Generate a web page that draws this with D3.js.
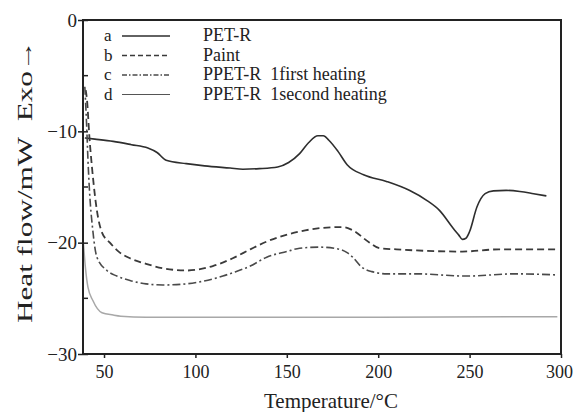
<!DOCTYPE html>
<html>
<head>
<meta charset="utf-8">
<script src="https://cdn.jsdelivr.net/npm/d3@7"></script>
<style>
  body { margin: 0; background: #fff; }
  svg { display: block; font-family: "Liberation Serif", "DejaVu Serif", serif; }
</style>
</head>
<body>
<div id="vizContainer"></div>
<script>
let w = 573;
let h = 412;
let margin = { left: 83, right: 12, top: 20, bottom: 58 };

// curve a: PET-R
let tempA = [39.5, 45, 55, 65, 74, 79, 84, 95, 105, 119, 126, 135, 145, 151, 157, 162, 167, 170, 173, 178, 183, 192, 204.5, 217, 226.5, 233.5, 241, 244, 246, 248, 250, 254, 258.5, 263, 270, 277.5, 285, 292];
let flowA = [-10.6, -10.7, -10.9, -11.2, -11.5, -11.9, -12.6, -12.9, -13.1, -13.3, -13.4, -13.35, -13.2, -12.8, -12.0, -11.0, -10.4, -10.4, -10.8, -11.8, -13.0, -13.9, -14.5, -15.3, -16.2, -17.1, -18.7, -19.3, -19.7, -19.6, -19.0, -16.8, -15.6, -15.35, -15.3, -15.4, -15.6, -15.8];

// curve b: Paint
let tempB = [40, 40.7, 42, 43.4, 46.1, 48.9, 53.2, 58, 64.2, 73, 82.2, 95.3, 109.5, 120.4, 130, 139, 157, 168, 180.5, 185, 188.2, 192, 195.3, 200.7, 210, 221, 246, 266, 298];
let flowB = [-6.3, -7.2, -10.5, -13.2, -17.1, -19.1, -20.0, -20.8, -21.4, -21.9, -22.3, -22.5, -22.1, -21.4, -20.6, -19.9, -19.0, -18.7, -18.6, -18.8, -19.1, -19.6, -20.0, -20.5, -20.6, -20.7, -20.8, -20.6, -20.6];

// curve c: PPET-R first heating
let tempC = [39.5, 40.5, 41.2, 41.8, 44, 46.1, 51.6, 57, 64.2, 73, 82.2, 95, 103, 115, 120.4, 130, 139, 150, 157, 168, 179, 183, 186, 191, 196.5, 205, 221, 248, 275, 298];
let flowC = [-6.0, -9.5, -12.5, -14.6, -19.1, -21.3, -22.5, -23.0, -23.4, -23.7, -23.8, -23.7, -23.5, -23.0, -22.7, -22.1, -21.3, -20.8, -20.5, -20.4, -20.6, -20.9, -21.3, -22.2, -22.6, -22.8, -22.8, -23.0, -22.8, -22.9];

// curve d: PPET-R second heating
let tempD = [38.7, 39.8, 41.2, 43.9, 48.9, 55, 59.2, 73, 100, 200, 298];
let flowD = [-20.0, -22.2, -24.0, -25.2, -26.3, -26.5, -26.6, -26.7, -26.7, -26.7, -26.65];

let xTicks = [50, 100, 150, 200, 250, 300];
let yTicks = [0, -10, -20, -30];
let yMinorTicks = [-5, -15, -25];

let legendKeys = ["a", "b", "c", "d"];
let legendNames = ["PET-R", "Paint", "PPET-R  1first heating", "PPET-R  1second heating"];

let viz = d3.select("#vizContainer").append("svg")
	.attr("width", w)
	.attr("height", h);

let xScale = d3.scaleLinear().domain([38.5, 300]).range([margin.left, w - margin.right]);
let yScale = d3.scaleLinear().domain([-30, 0]).range([h - margin.bottom, margin.top]);

let styles = [
	{ stroke: "#2e2e2e", width: 1.6, dash: null },
	{ stroke: "#3a3a3a", width: 1.8, dash: "7,4" },
	{ stroke: "#4a4a4a", width: 1.6, dash: "8,3,2,3" },
	{ stroke: "#a8a8a8", width: 1.5, dash: null }
];

let series = [
	d3.zip(tempA, flowA),
	d3.zip(tempB, flowB),
	d3.zip(tempC, flowC),
	d3.zip(tempD, flowD)
];

let line = d3.line()
	.x(d => xScale(d[0]))
	.y(d => yScale(d[1]))
	.curve(d3.curveMonotoneX);

let graphGroup = viz.append("g").attr("class", "graphGroup");
graphGroup.selectAll(".curve").data(series).enter().append("path")
	.attr("class", "curve")
	.attr("d", d => line(d))
	.attr("fill", "none")
	.attr("stroke", (d, i) => styles[i].stroke)
	.attr("stroke-width", (d, i) => styles[i].width)
	.attr("stroke-dasharray", (d, i) => styles[i].dash);

// frame
viz.append("rect")
	.attr("x", margin.left)
	.attr("y", margin.top)
	.attr("width", w - margin.left - margin.right)
	.attr("height", h - margin.top - margin.bottom)
	.attr("fill", "none")
	.attr("stroke", "#222")
	.attr("stroke-width", 2);

// x axis
let xAxis = viz.append("g")
	.attr("transform", "translate(0," + (h - margin.bottom) + ")")
	.call(d3.axisBottom(xScale).tickValues(xTicks).tickSize(4).tickPadding(7));
xAxis.select(".domain").remove();
xAxis.selectAll("line").attr("stroke", "#222").attr("stroke-width", 1.5);
xAxis.selectAll("text").attr("font-size", 18).attr("fill", "#222")
	.attr("font-family", "Liberation Serif")
	.attr("dx", d => d == 300 ? -2 : 0);

// y axis
let yAxis = viz.append("g")
	.attr("transform", "translate(" + margin.left + ",0)")
	.call(d3.axisLeft(yScale).tickValues(yTicks).tickSize(5).tickPadding(1));
yAxis.select(".domain").remove();
yAxis.selectAll("line").attr("x2", -5).attr("x1", 5).attr("stroke", "#222").attr("stroke-width", 1.5);
yAxis.selectAll("text").attr("font-size", 19).attr("fill", "#222")
	.attr("font-family", "Liberation Serif");

viz.append("g").selectAll("line").data(yMinorTicks).enter().append("line")
	.attr("x1", margin.left)
	.attr("x2", margin.left + 5)
	.attr("y1", d => yScale(d))
	.attr("y2", d => yScale(d))
	.attr("stroke", "#222")
	.attr("stroke-width", 1.5);

// axis titles
viz.append("text")
	.attr("x", 331)
	.attr("y", 408)
	.attr("text-anchor", "middle")
	.attr("font-size", 21)
	.attr("fill", "#222")
	.text("Temperature/°C");

viz.append("text")
	.attr("transform", "translate(32,323) rotate(-90)")
	.attr("font-size", 20)
	.attr("fill", "#222")
	.attr("textLength", 283)
	.attr("lengthAdjust", "spacingAndGlyphs")
	.text("Heat flow/mW\u00a0\u00a0Exo\u2192");

// legend
let legend = viz.append("g").attr("class", "legend");
let legendRows = legend.selectAll(".row").data(legendKeys).enter().append("g")
	.attr("class", "row")
	.attr("transform", (d, i) => "translate(0," + (36 + i * 19.5) + ")");
legendRows.append("text")
	.attr("x", 104)
	.attr("y", 5)
	.attr("font-size", 17)
	.attr("fill", "#222")
	.text(d => d);
legendRows.append("line")
	.attr("x1", 122)
	.attr("x2", 170)
	.attr("y1", 0)
	.attr("y2", 0)
	.attr("stroke", (d, i) => i == 3 ? "#555" : styles[i].stroke)
	.attr("stroke-width", (d, i) => i == 3 ? 1.2 : 1.5)
	.attr("stroke-dasharray", (d, i) => i == 1 ? "5,3" : i == 2 ? "5,2,1.5,2" : null);
legendRows.append("text")
	.attr("x", 203)
	.attr("y", 5)
	.attr("font-size", 18)
	.attr("fill", "#222")
	.style("white-space", "pre")
	.text((d, i) => legendNames[i]);
</script>
</body>
</html>
